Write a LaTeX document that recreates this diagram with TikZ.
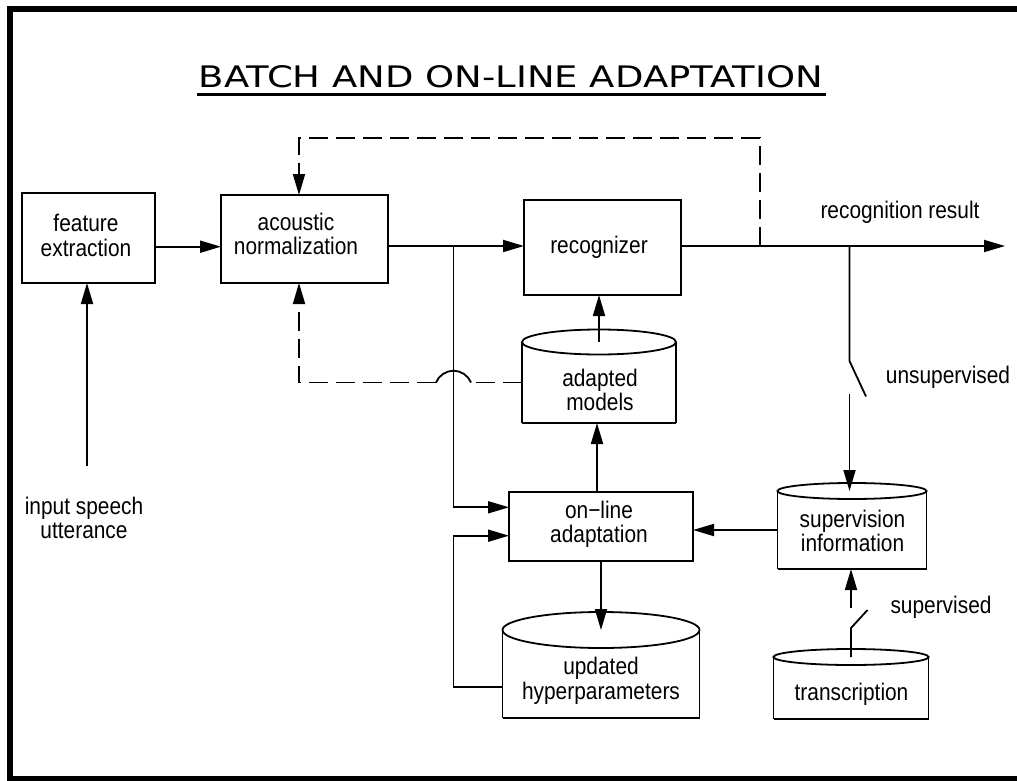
\documentclass[tikz,border=0pt]{standalone}
\usepackage{fontspec}
\setmainfont{Liberation Sans}[FakeStretch=0.87]
\newfontfamily\titlefont{DejaVu Sans}
\usetikzlibrary{arrows.meta}

% centred multi-line label whose baseline is that of its first line
\newcommand\stack[1]{\begin{tabular}[t]{@{}c@{}}#1\end{tabular}}

% storage drum: top ellipse centred on the body's north anchor, straight base
\newcommand\drum[3]{%
  \draw[wire] (#1.north west) -- (#1.south west) (#1.north east) -- (#1.south east);
  \draw[line width=2.6pt] (#1.south west) -- (#1.south east);
  \draw[wire, fill=white] (#1.north) ellipse [x radius=#2pt, y radius=#3pt];
}

\begin{document}
\begin{tikzpicture}[x=1pt, y=-1pt,
  every node/.style={inner sep=0pt, outer sep=0pt},
  lbl/.style={anchor=base, font=\fontsize{24}{24}\selectfont},
  box/.style={draw, line width=1.8pt},
  body/.style={},
  wire/.style={line width=1.8pt},
  arr/.style={wire, -{Triangle[length=21pt, width=12pt]}},
  dsh/.style={wire, dash pattern=on 19pt off 8pt},
  darr/.style={dsh, -{Triangle[length=21pt, width=12pt]}}]

\useasboundingbox (0,0) rectangle (1017,781);

% frame
\draw[line width=6pt] (1030,9.5) -- (10,9.5) -- (10,779) -- (1030,779);

% title
\node[anchor=base] (title) at (511,88)
  {\resizebox{624pt}{22pt}{\titlefont BATCH AND ON-LINE ADAPTATION}};
\draw[line width=2.5pt] (197,94.5) -- (826,94.5);

% processing blocks
\node[box, minimum width=133pt, minimum height=90pt] (fe)  at (88.5,238)   {};
\node[box, minimum width=167pt, minimum height=88pt] (an)  at (304.5,239)  {};
\node[box, minimum width=157pt, minimum height=95pt] (rec) at (602.5,247.5) {};
\node[box, minimum width=184pt, minimum height=69pt] (ola) at (601,526.5)  {};

% storage drums (body only; outline drawn by \drum)
\node[body, minimum width=154pt, minimum height=81pt] (am) at (599,382.5) {};
\node[body, minimum width=197pt, minimum height=88pt] (uh) at (601,674)   {};
\node[body, minimum width=149pt, minimum height=78pt] (si) at (852,530)   {};
\node[body, minimum width=155pt, minimum height=62pt] (tr) at (851,688)   {};
\drum{am}{77}{12.5}
\drum{uh}{98.5}{18}
\drum{si}{74.5}{8}
\drum{tr}{77.5}{8}

% labels
\node[lbl] (fe-t)  at (86,231.7)   {\stack{feature\\extraction}};
\node[lbl] (an-t)  at (296,230)    {\stack{acoustic\\normalization}};
\node[lbl] (rec-t) at (599,253.3)  {recognizer};
\node[lbl] (am-t)  at (600,386)    {\stack{adapted\\models}};
\node[lbl] (ola-t) at (599,518.3)  {\stack{on−line\\adaptation}};
\node[lbl] (uh-t)  at (601,674.5)  {\stack{updated\\hyperparameters}};
\node[lbl] (si-t)  at (852.5,527.3) {\stack{supervision\\information}};
\node[lbl] (tr-t)  at (851.5,700.7) {transcription};
\node[lbl] (in-t)  at (84,514.3)   {\stack{input speech\\utterance}};
\node[lbl] (res-t) at (900,218.5)  {recognition result};
\node[lbl] (uns-t) at (948,383.3)  {unsupervised};
\node[lbl] (sup-t) at (941,613.3)  {supervised};

% reference points
\coordinate (src)   at (87,466);
\coordinate (lf)    at (0,246.7);
\coordinate (lm)    at (0,246);
\coordinate (out)   at (1005,246);
\coordinate (tapR)  at (760,246);
\coordinate (fbTop) at (299,138);
\coordinate (fbLow) at (299,382.5);
\coordinate (tapL)  at (453.5,246);
\coordinate (hopR)  at (471,382.5);
\coordinate (hopL)  at (436,382.5);
\coordinate (tapU)  at (849.5,246);
\coordinate (swU)   at (849.5,361);
\coordinate (swUc)  at (849.5,393.5);
\coordinate (swS)   at (851,628);
\coordinate (swSc)  at (851,608);
\coordinate (olaIn1) at ([yshift=19.2pt]ola.west);
\coordinate (olaIn2) at ([yshift=-9.2pt]ola.west);
\coordinate (uhOut)  at ([yshift=-13.3pt]uh.west);
\coordinate (olaTop) at ([xshift=-4pt]ola.north);

% main signal path
\draw[arr] (src) -- (src |- fe.south);
\draw[arr] (fe.east |- lf) -- (an.west |- lf);
\draw[arr] (an.east |- lm) -- (rec.west |- lm);
\draw[arr] (rec.east |- lm) -- (out);

% dashed feedback into normalization
\draw[darr] (tapR) |- (fbTop) -- (fbTop |- an.north);
\draw[dsh] (am.west) -- (hopR);
\draw[wire] (hopR) .. controls (468.2,375.5) and (461,370.7) .. (453.5,370.7)
                   .. controls (446,370.7) and (438.8,375.5) .. (hopL);
\draw[darr] (hopL) -- (fbLow) -- (fbLow |- an.south);

% adaptation loop
\draw[arr] (tapL) |- (olaIn1);
\draw[arr] (uhOut) -| (olaIn2 -| tapL) -- (olaIn2);
\draw[arr] (olaTop) -- (olaTop |- am.south);
\draw[arr] (am.north) -- (am.north |- rec.south);
\draw[arr] (ola.south) -- (ola.south |- uh.north);
\draw[arr] (si.west) -- (si.west -| ola.east);

% unsupervised switch
\draw[wire] (tapU) -- (swU) -- ++(16.5,35.5);
\draw[arr] (swUc) -- (swUc |- si.north);

% supervised switch
\draw[wire] (tr.north) -- (swS) -- ++(16.5,-18);
\draw[arr] (swSc) -- (swSc |- si.south);
\end{tikzpicture}
\end{document}
